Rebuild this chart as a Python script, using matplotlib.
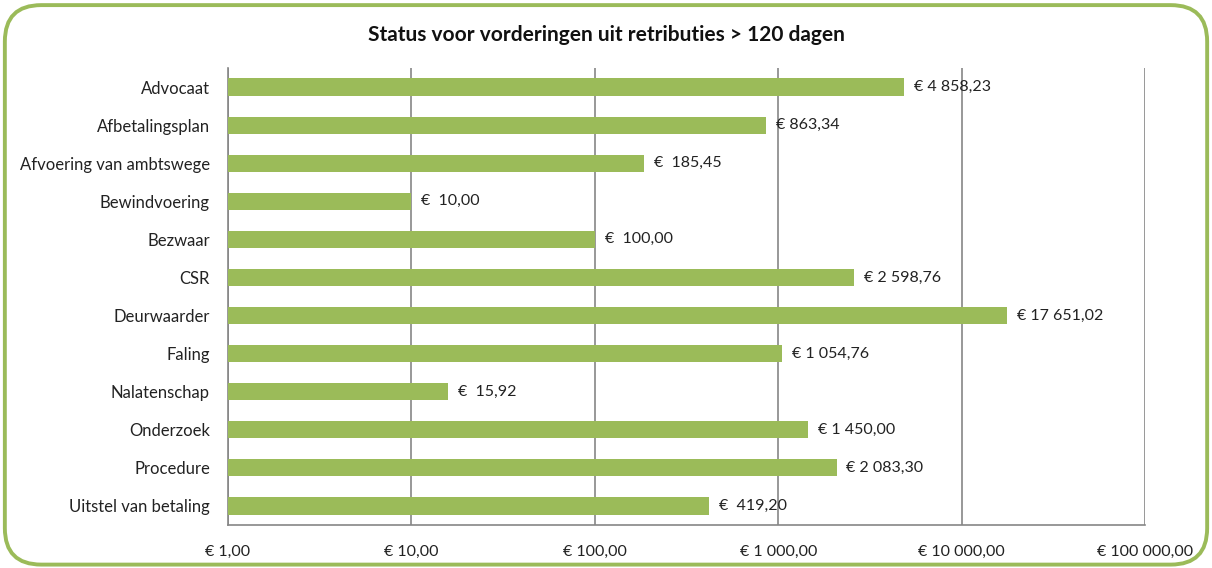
import matplotlib
matplotlib.use("Agg")
import matplotlib.pyplot as plt
from matplotlib.patches import FancyBboxPatch
from matplotlib.ticker import FixedLocator, FixedFormatter, NullLocator

plt.rcParams['font.family'] = ['Lato', 'DejaVu Sans']

title = "Status voor vorderingen uit retributies > 120 dagen"
categories = ["Advocaat", "Afbetalingsplan", "Afvoering van ambtswege", "Bewindvoering",
              "Bezwaar", "CSR", "Deurwaarder", "Faling", "Nalatenschap", "Onderzoek",
              "Procedure", "Uitstel van betaling"]
values = [4858.23, 863.34, 185.45, 10.00, 100.00, 2598.76, 17651.02, 1054.76, 15.92,
          1450.00, 2083.30, 419.20]
value_labels = ["€ 4 858,23", "€ 863,34", "€  185,45", "€  10,00", "€  100,00", "€ 2 598,76",
                "€ 17 651,02", "€ 1 054,76", "€  15,92", "€ 1 450,00", "€ 2 083,30", "€  419,20"]
tick_values = [1, 10, 100, 1000, 10000, 100000]
tick_labels = ["€ 1,00", "€ 10,00", "€ 100,00", "€ 1 000,00", "€ 10 000,00", "€ 100 000,00"]

green = "#9BBB59"
gray = "#868686"
textc = "#222222"

fig = plt.figure(figsize=(12.12, 5.68), dpi=100)
fig.patch.set_facecolor("white")

# rounded border
border = FancyBboxPatch((0.004, 0.006), 0.992, 0.985, boxstyle="round,pad=0,rounding_size=0.03",
                        transform=fig.transFigure, fill=False, edgecolor=green, linewidth=2.8,
                        mutation_aspect=1212/568)
fig.patches.append(border)

ax = fig.add_axes([228/1212, 1-525/568, (1145-228)/1212, (525-68)/568])
ax.set_xscale("log")
ax.set_xlim(1, 100000)
ypos = list(range(len(categories)))
ax.barh(ypos, values, height=0.45, color=green, left=0, zorder=3)
ax.set_ylim(len(categories)-0.5, -0.5)
ax.set_yticks(ypos)
ax.set_yticklabels(categories, fontsize=12, color=textc)
ax.tick_params(axis="y", length=0, pad=13)

ax.xaxis.set_major_locator(FixedLocator(tick_values))
ax.xaxis.set_major_formatter(FixedFormatter(tick_labels))
ax.xaxis.set_minor_locator(NullLocator())
ax.tick_params(axis="x", length=0, pad=14, labelsize=11.5, labelcolor=textc)
ax.grid(axis="x", color=gray, linewidth=1.2, zorder=1)

for s in ["top", "right"]:
    ax.spines[s].set_visible(False)
for s in ["left", "bottom"]:
    ax.spines[s].set_color(gray)
    ax.spines[s].set_linewidth(1.2)

for y, v, lab in zip(ypos, values, value_labels):
    ax.annotate(lab, (v, y), xytext=(7, 0), textcoords="offset points",
                va="center", ha="left", fontsize=11.5, color=textc, zorder=4)

fig.text(0.5, 1-35/568, title, ha="center", va="center", fontsize=15,
         fontweight="bold", color="#111111")

fig.savefig("out.png", dpi=100)
